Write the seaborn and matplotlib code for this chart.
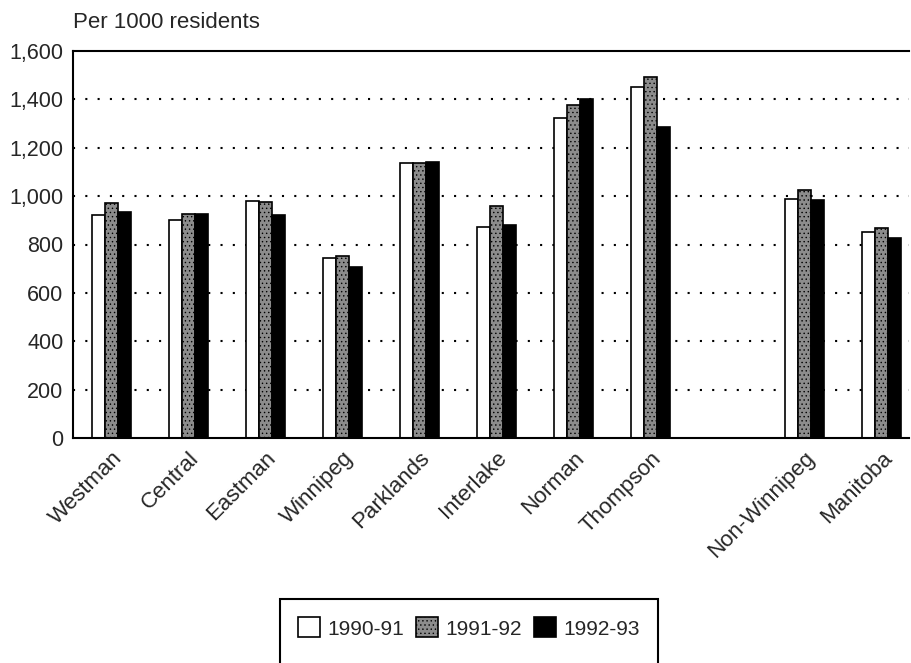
import matplotlib
matplotlib.use("Agg")
import matplotlib.pyplot as plt
import seaborn as sns
import pandas as pd
from matplotlib.patches import Rectangle, Patch
from matplotlib.ticker import FuncFormatter

# ---- data ----
regions = ["Westman", "Central", "Eastman", "Winnipeg", "Parklands",
           "Interlake", "Norman", "Thompson", "Non-Winnipeg", "Manitoba"]
years = ["1990-91", "1991-92", "1992-93"]
v1990 = [924, 903, 979, 743, 1135, 873, 1324, 1452, 990, 851]
v1991 = [972, 928, 975, 752, 1135, 959, 1377, 1492, 1026, 870]
v1992 = [934, 928, 920, 708, 1141, 880, 1400, 1286, 986, 828]
yticks = [0, 200, 400, 600, 800, 1000, 1200, 1400, 1600]
colors = ["white", "#8c8c8c", "black"]

sns.set_theme(style="white")
plt.rcParams["font.family"] = ["Liberation Sans", "DejaVu Sans"]
plt.rcParams["hatch.linewidth"] = 0.5

df = pd.DataFrame({
    "region": regions * 3,
    "year": [years[0]] * len(regions) + [years[1]] * len(regions) + [years[2]] * len(regions),
    "rate": v1990 + v1991 + v1992,
})
order = regions[:8] + [" "] + regions[8:]

fig = plt.figure(figsize=(9.11, 6.63), dpi=100)
ax = fig.add_axes([73 / 911, 1 - 438 / 663, (909 - 73) / 911, (438 - 51) / 663])

sns.barplot(data=df, x="region", y="rate", hue="year", order=order,
            hue_order=years, palette=colors, width=0.5, saturation=1,
            edgecolor="black", linewidth=1.2, errorbar=None, legend=False, ax=ax)

# stipple texture for middle series
for bar in ax.containers[1]:
    bar.set_hatch("....")

ax.set_ylim(0, 1600)
ax.set_xlim(-0.5, 10.36)
ax.set_yticks(yticks)
ax.yaxis.set_major_formatter(FuncFormatter(lambda v, p: f"{v:,.0f}"))
ax.set_xlabel("")
ax.set_ylabel("")

for y in yticks[1:-1]:
    ax.axhline(y, color="black", lw=1.5, ls=(0, (1, 4.9)), zorder=0)

for side in ["top", "left", "bottom"]:
    ax.spines[side].set_color("black")
    ax.spines[side].set_linewidth(1.5)
ax.spines["right"].set_visible(False)

ax.tick_params(axis="y", length=0, labelsize=15.5, pad=7)
ax.tick_params(axis="x", length=0, labelsize=16, pad=7)
plt.setp(ax.get_xticklabels(), rotation=45, ha="right", va="top", rotation_mode="anchor")

fig.text(73 / 911, 1 - 22 / 663, "Per 1000 residents", fontsize=16, va="center", ha="left")

handles = [Patch(facecolor=c, edgecolor="black", lw=1.2) for c in colors]
handles[1].set_hatch("....")
fig.legend(handles, years, loc="center", bbox_to_anchor=(469 / 911, 1 - 628 / 663),
           ncol=3, frameon=False, fontsize=15, handlelength=1.05, handleheight=1.1,
           handletextpad=0.35, columnspacing=0.6, borderaxespad=0, borderpad=0)
fig.add_artist(Rectangle((280 / 911, -0.05), 378 / 911, 0.05 + (1 - 599 / 663),
                         transform=fig.transFigure, fill=False, edgecolor="black", lw=1.5))

fig.savefig("out.png", dpi=100)
